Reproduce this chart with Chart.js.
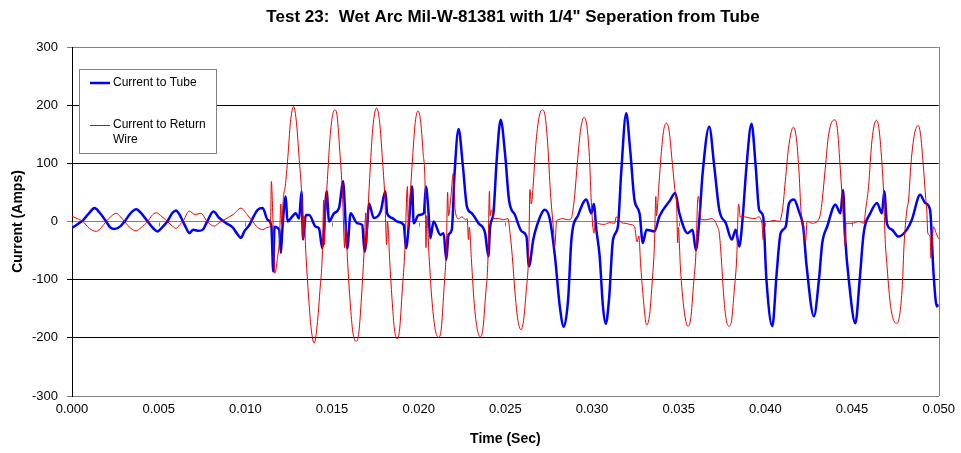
<!DOCTYPE html>
<html>
<head>
<meta charset="utf-8">
<title>Test 23 Wet Arc</title>
<script src="https://cdn.jsdelivr.net/npm/chart.js@4.4.1/dist/chart.umd.min.js"></script>
<style>
  body { margin: 0; background: #fff; }
  canvas { display: block; }
</style>
</head>
<body>
<canvas id="arcChart" width="961" height="453"></canvas>
<script>
"use strict";

const chartTitle = 'Test 23:  Wet Arc Mil-W-81381 with 1/4" Seperation from Tube';
const seriesNames = ['Current to Tube', 'Current to Return Wire'];

// current to tube, time (s) and amps
const tubeTime = [
    0, 0.0003, 0.00063, 0.001, 0.0013, 0.0016, 0.00197, 0.0022, 0.00245, 0.0028,
    0.00303, 0.0034, 0.0037, 0.004, 0.00437, 0.0047, 0.00494, 0.0052, 0.0055, 0.0058,
    0.006, 0.0062, 0.0064, 0.0066, 0.00676, 0.007, 0.0073, 0.00755, 0.0078, 0.00816,
    0.0085, 0.0089, 0.00927, 0.0095, 0.00975, 0.00994, 0.01023, 0.0105, 0.01071, 0.011,
    0.01128, 0.0115, 0.01161, 0.01168, 0.01195, 0.01205, 0.01212, 0.01233, 0.01243, 0.01272,
    0.01291, 0.0131, 0.01324, 0.01333, 0.01349, 0.01368, 0.01406, 0.01425, 0.01444, 0.01454,
    0.01469, 0.01483, 0.01511, 0.0154, 0.01565, 0.01573, 0.01588, 0.01607, 0.01645, 0.01674,
    0.01688, 0.01703, 0.01713, 0.01741, 0.0178, 0.01808, 0.01818, 0.01847, 0.01875, 0.01914,
    0.01927, 0.01943, 0.01962, 0.01971, 0.02, 0.02029, 0.02042, 0.02057, 0.02067, 0.02086,
    0.02125, 0.02144, 0.02159, 0.02172, 0.02191, 0.02207, 0.0223, 0.02255, 0.02278, 0.02307,
    0.02345, 0.02383, 0.02402, 0.02412, 0.02431, 0.0245, 0.02473, 0.02498, 0.02521, 0.02556,
    0.02594, 0.02622, 0.02636, 0.02661, 0.0268, 0.02728, 0.02757, 0.02786, 0.02814, 0.02837,
    0.02862, 0.02881, 0.0292, 0.02967, 0.02996, 0.0301, 0.03025, 0.03044, 0.03063, 0.03079,
    0.03098, 0.03121, 0.03149, 0.03168, 0.03197, 0.0322, 0.03245, 0.03274, 0.03293, 0.03314,
    0.0336, 0.03389, 0.03447, 0.0348, 0.03504, 0.03552, 0.0358, 0.03599, 0.03619, 0.03638,
    0.03676, 0.03705, 0.03734, 0.03772, 0.03806, 0.03829, 0.03849, 0.03868, 0.03891, 0.0392,
    0.03944, 0.03964, 0.03987, 0.04006, 0.0404, 0.04065, 0.04088, 0.04117, 0.04136, 0.04165,
    0.04194, 0.04218, 0.04238, 0.0428, 0.04309, 0.04328, 0.04356, 0.04404, 0.04433, 0.04448,
    0.04461, 0.04481, 0.04519, 0.04544, 0.04567, 0.04605, 0.04644, 0.04672, 0.04686, 0.04701,
    0.0473, 0.04768, 0.04816, 0.04845, 0.04893, 0.04921, 0.0495, 0.0497, 0.04989, 0.05
];
const tubeAmps = [
    -11, -5, 2, 15, 23, 15, 0, -10, -13, -8,
    0, 15, 21, 14, 0, -12, -17, -10, 0, 15,
    19, 12, 0, -12, -20, -14, -16, -14, 0, 17,
    6, -3, -10, -20, -28, -17, -6, 10, 20, 23,
    3, -8, -86, -9, -14, -54, -20, 43, 0, 9,
    14, 5, 52, -31, 11, 11, -9, -12, -46, -14,
    52, 0, 14, 23, 69, 31, -46, 14, -3, -6,
    -52, -9, 31, 6, 17, 52, 14, 6, 0, -6,
    -46, -6, 60, -3, 11, 14, 60, 14, -29, 0,
    -23, -20, -66, -23, -14, 83, 159, 95, 26, 14,
    -3, -20, -60, -9, 14, 106, 175, 117, 37, 11,
    -17, -26, -77, -31, -9, 20, 3, -60, -146, -181,
    -134, -31, 11, 38, 14, 30, -14, -60, -146, -176,
    -134, -31, -9, 83, 186, 123, 37, 14, -37, -14,
    -17, 9, 35, 49, 14, -20, -14, -49, 3, 83,
    163, 95, 20, -3, -31, -14, -43, 3, 95, 168,
    95, 20, 9, -100, -180, -89, -20, -9, 31, 38,
    17, -9, -77, -163, -100, -37, -9, 29, 14, 54,
    -31, -100, -175, -100, -20, 14, 32, 14, 52, -3,
    -14, -26, -14, 3, 46, 32, 20, -89, -146, -143
];

// current to return wire
const wireTime = [
    0, 0.0003, 0.00063, 0.001, 0.0014, 0.0017, 0.00197, 0.0023, 0.00255, 0.0028,
    0.00303, 0.0034, 0.0037, 0.004, 0.00437, 0.0046, 0.00485, 0.0052, 0.0055, 0.0058,
    0.006, 0.0062, 0.0064, 0.00676, 0.0071, 0.00743, 0.0078, 0.0082, 0.0085, 0.00877,
    0.0093, 0.00975, 0.0101, 0.01042, 0.0107, 0.011, 0.0113, 0.01145, 0.0115, 0.0116,
    0.0117, 0.01185, 0.01197, 0.01205, 0.0121, 0.0122, 0.0123, 0.01245, 0.0126, 0.01278,
    0.01295, 0.0131, 0.01325, 0.01333, 0.01338, 0.0135, 0.01365, 0.0138, 0.01397, 0.01412,
    0.0143, 0.01445, 0.01452, 0.01456, 0.01462, 0.01475, 0.0149, 0.01505, 0.01517, 0.0153,
    0.01545, 0.0156, 0.01573, 0.01578, 0.0159, 0.01605, 0.0162, 0.0164, 0.01655, 0.0167,
    0.01685, 0.01695, 0.017, 0.01708, 0.0172, 0.01735, 0.01757, 0.01775, 0.0179, 0.01805,
    0.01815, 0.0182, 0.01835, 0.0185, 0.0186, 0.01876, 0.0189, 0.01905, 0.0192, 0.01935,
    0.0194, 0.0195, 0.01965, 0.0198, 0.01996, 0.0201, 0.02025, 0.02038, 0.02042, 0.02047,
    0.0206, 0.02075, 0.02095, 0.02115, 0.0213, 0.02145, 0.0216, 0.02167, 0.02172, 0.02185,
    0.022, 0.0221, 0.0223, 0.0225, 0.0227, 0.0228, 0.02287, 0.02292, 0.02305, 0.0232,
    0.02338, 0.02354, 0.0237, 0.02385, 0.024, 0.02408, 0.02412, 0.0242, 0.02435, 0.0246,
    0.0249, 0.02515, 0.02527, 0.0254, 0.02555, 0.0257, 0.0259, 0.02605, 0.0262, 0.02635,
    0.02642, 0.0265, 0.0266, 0.02675, 0.02695, 0.02713, 0.0273, 0.02745, 0.0276, 0.02776,
    0.02785, 0.02795, 0.02805, 0.0283, 0.0286, 0.0288, 0.0289, 0.029, 0.02915, 0.02935,
    0.02954, 0.0297, 0.02985, 0.02996, 0.03011, 0.0302, 0.03034, 0.0307, 0.031, 0.0313,
    0.0314, 0.0317, 0.0319, 0.0322, 0.03245, 0.0326, 0.0327, 0.0328, 0.03295, 0.03315,
    0.03332, 0.03348, 0.0336, 0.03368, 0.03372, 0.03385, 0.034, 0.03415, 0.0343, 0.03445,
    0.0346, 0.03478, 0.03488, 0.03494, 0.03498, 0.0351, 0.0353, 0.03553, 0.0357, 0.03585,
    0.036, 0.0361, 0.03615, 0.03622, 0.0363, 0.0366, 0.0369, 0.0371, 0.03725, 0.03734,
    0.03745, 0.0376, 0.03775, 0.03791, 0.03805, 0.0382, 0.03835, 0.03845, 0.03849, 0.03855,
    0.0388, 0.0391, 0.0394, 0.0396, 0.0398, 0.03987, 0.03995, 0.0402, 0.0405, 0.0408,
    0.041, 0.04115, 0.04135, 0.04161, 0.0418, 0.04195, 0.04205, 0.04213, 0.04232, 0.0424,
    0.0427, 0.043, 0.04318, 0.04328, 0.04345, 0.04365, 0.044, 0.04415, 0.0443, 0.04445,
    0.04452, 0.04461, 0.04465, 0.045, 0.0454, 0.0457, 0.04576, 0.04595, 0.04615, 0.0464,
    0.04655, 0.0467, 0.04682, 0.04691, 0.047, 0.0472, 0.0474, 0.0476, 0.04775, 0.0479,
    0.048, 0.04816, 0.04826, 0.0484, 0.0486, 0.04882, 0.04895, 0.0491, 0.04925, 0.04931,
    0.04937, 0.0495, 0.04955, 0.0497, 0.04985, 0.05
];
const wireAmps = [
    9, 5, 0, -12, -17, -10, 0, 10, 14, 8,
    0, -12, -16, -10, 0, 10, 15, 8, 0, -8,
    -12, -6, 0, 18, 12, 14, 0, -8, -2, 3,
    12, 23, 12, 0, -10, -14, -10, -8, 69, -5,
    -89, -63, -30, 30, -5, 43, 60, 110, 170, 198,
    170, 110, 45, -30, 10, -60, -130, -185, -209, -185,
    -120, -50, 37, -40, 10, 80, 150, 185, 192, 180,
    120, 50, -45, -5, -70, -140, -190, -206, -190, -130,
    -50, 15, -40, 20, 90, 160, 195, 170, 110, 40,
    -40, 0, -80, -150, -185, -202, -185, -120, -50, 60,
    -10, 40, 110, 170, 190, 175, 120, 50, -45, 10,
    -60, -130, -185, -199, -185, -120, -40, 50, 10, 40,
    83, 20, 5, 8, 3, 5, -31, -10, -70, -140,
    -185, -198, -185, -130, -60, 52, 10, 20, 5, 5,
    3, 5, -20, -60, -120, -165, -186, -170, -120, -50,
    55, 30, 60, 130, 180, 192, 180, 130, 50, -8,
    -43, 0, 3, 5, 3, 5, 20, 45, 100, 160,
    179, 165, 110, 32, -20, 0, -3, -5, -2, -3,
    8, -2, -3, -5, -9, -35, -25, -72, -130, -178,
    -160, -100, -40, 43, 10, 60, 120, 160, 169, 155,
    110, 55, 30, -37, -10, -80, -150, -180, -165, -110,
    -50, 40, 43, 20, 3, 3, 5, 0, -10, -20,
    -60, -130, -170, -180, -170, -120, -60, 30, 25, 8,
    8, 6, 5, 8, -3, -31, 0, 0, 2, 0,
    23, 70, 130, 162, 140, 80, 20, 3, -35, 0,
    -3, 0, 14, 37, 90, 150, 175, 160, 100, 30,
    -9, -43, -3, -3, 0, -3, 14, 60, 140, 174,
    160, 110, 49, -31, -70, -140, -170, -175, -160, -110,
    -40, 20, 37, 100, 150, 165, 150, 100, 40, 20,
    -20, -26, -63, -9, -20, -30
];

const FONT = '"Liberation Sans", Arial, sans-serif';
const toPoints = (ts, vs) => ts.map((t, i) => ({x: t, y: vs[i]}));

// title, legend box, right frame and the little ticks on the zero line
const decorations = {
    id: 'decorations',
    beforeDatasetsDraw(chart) {
        const {ctx, chartArea: a, scales: {x, y}} = chart;
        ctx.save();
        ctx.strokeStyle = '#808080';
        ctx.lineWidth = 1;
        ctx.beginPath();
        ctx.moveTo(Math.round(a.right) + 0.5, a.top);
        ctx.lineTo(Math.round(a.right) + 0.5, a.bottom);
        const y0 = Math.round(y.getPixelForValue(0)) + 0.5;
        x.ticks.forEach(t => {
            const px = Math.round(x.getPixelForValue(t.value)) + 0.5;
            ctx.moveTo(px, y0);
            ctx.lineTo(px, y0 + 4);
        });
        ctx.stroke();
        ctx.restore();
    },
    afterDraw(chart) {
        const ctx = chart.ctx;
        ctx.save();
        ctx.fillStyle = '#000';
        ctx.font = 'bold 17px ' + FONT;
        ctx.textAlign = 'center';
        ctx.textBaseline = 'middle';
        ctx.fillText(chartTitle, 513, 17);

        // legend
        ctx.fillStyle = '#fff';
        ctx.fillRect(79, 69, 137, 84);
        ctx.strokeStyle = '#808080';
        ctx.lineWidth = 1;
        ctx.strokeRect(79.5, 69.5, 137, 84);

        ctx.lineWidth = 2.5;
        ctx.strokeStyle = '#0000ff';
        ctx.beginPath(); ctx.moveTo(90, 83); ctx.lineTo(110, 83); ctx.stroke();
        ctx.lineWidth = 1;
        ctx.strokeStyle = 'rgb(235,0,0)';
        ctx.beginPath(); ctx.moveTo(90, 125.5); ctx.lineTo(110, 125.5); ctx.stroke();

        ctx.fillStyle = '#000';
        ctx.font = '12px ' + FONT;
        ctx.textAlign = 'left';
        ctx.fillText(seriesNames[0], 113, 83);
        ctx.fillText('Current to Return', 113, 125);
        ctx.fillText('Wire', 113, 140);
        ctx.restore();
    }
};

const gridColour = c => {
    const v = c.tick.value;
    return (v === 0 || Math.abs(v) === 300) ? '#808080' : '#000';
};

new Chart(document.getElementById('arcChart'), {
    type: 'line',
    data: {
        datasets: [{
            label: seriesNames[0],
            data: toPoints(tubeTime, tubeAmps),
            borderColor: '#0000ff',
            borderWidth: 2.5,
            pointRadius: 0,
            cubicInterpolationMode: 'monotone',
            order: 1
        }, {
            label: seriesNames[1],
            data: toPoints(wireTime, wireAmps),
            borderColor: 'rgb(235,0,0)',
            borderWidth: 1,
            pointRadius: 0,
            cubicInterpolationMode: 'monotone',
            order: 0
        }]
    },
    options: {
        responsive: false,
        animation: false,
        devicePixelRatio: 1,
        layout: {padding: {top: 47, right: 19, bottom: 0, left: 0}},
        plugins: {
            legend: {display: false},
            tooltip: {enabled: false},
            title: {display: false}
        },
        scales: {
            x: {
                type: 'linear',
                min: 0,
                max: 0.05,
                afterFit: s => { s.height = 57; },
                grid: {display: false, drawTicks: false},
                border: {color: '#808080'},
                ticks: {
                    stepSize: 0.005,
                    autoSkip: false,
                    maxRotation: 0,
                    padding: 6,
                    color: '#000',
                    font: {family: FONT, size: 13},
                    callback: v => v.toFixed(3)
                },
                title: {
                    display: true,
                    text: 'Time (Sec)',
                    color: '#000',
                    font: {family: FONT, size: 14, weight: 'bold'},
                    padding: {top: 0, bottom: 5}
                }
            },
            y: {
                min: -300,
                max: 300,
                afterFit: s => { s.width = 72; },
                grid: {color: gridColour, tickLength: 5, lineWidth: 1},
                border: {color: '#000'},
                ticks: {
                    stepSize: 100,
                    padding: 9,
                    color: '#000',
                    font: {family: FONT, size: 13}
                },
                title: {
                    display: true,
                    text: 'Current (Amps)',
                    color: '#000',
                    font: {family: FONT, size: 14, weight: 'bold'},
                    padding: {top: 10, bottom: 0}
                }
            }
        }
    },
    plugins: [decorations]
});
</script>
</body>
</html>
